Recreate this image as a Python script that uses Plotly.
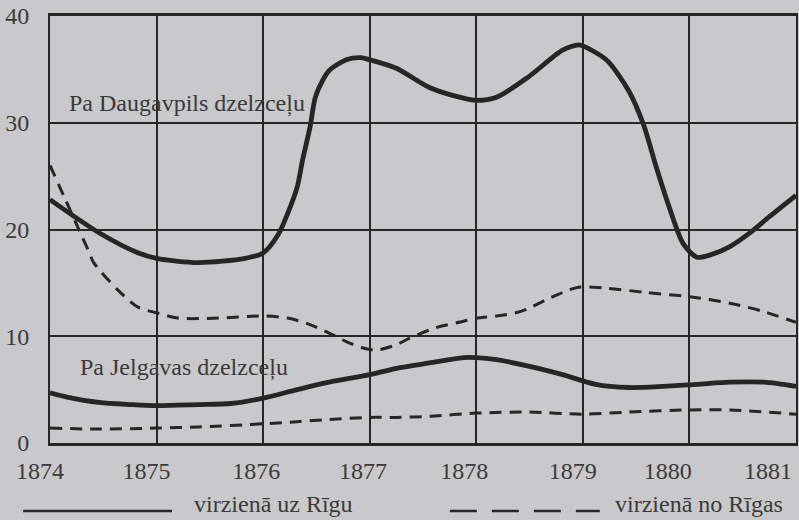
import plotly.graph_objects as go

# ---- data ----
years = [1874, 1875, 1876, 1877, 1878, 1879, 1880, 1881]
year_labels = ["1874", "1875", "1876", "1877", "1878", "1879", "1880", "1881"]
label_pos = [1874.0, 1875.0, 1876.03, 1877.03, 1877.98, 1879.0, 1879.89, 1880.83]

daug_to_x = [1874.00, 1874.46, 1874.83, 1875.00, 1875.39, 1875.83, 1876.00, 1876.14,
             1876.23, 1876.32, 1876.37, 1876.44, 1876.49, 1876.56, 1876.62, 1876.78,
             1876.92, 1877.00, 1877.25, 1877.56, 1877.88, 1878.00, 1878.19, 1878.49,
             1878.81, 1878.96, 1879.00, 1879.22, 1879.43, 1879.57, 1879.69, 1879.81,
             1879.94, 1880.07, 1880.19, 1880.38, 1880.57, 1880.75, 1881.00]
daug_to_y = [22.8, 19.7, 17.8, 17.3, 16.9, 17.3, 17.8, 19.5,
             21.5, 24.0, 26.5, 29.6, 32.4, 34.0, 34.9, 35.9,
             36.1, 35.9, 35.1, 33.3, 32.3, 32.1, 32.4, 34.3,
             36.8, 37.3, 37.2, 35.9, 33.0, 29.8, 25.8, 22.1,
             18.7, 17.4, 17.6, 18.4, 19.7, 21.2, 23.2]

daug_from_x = [1874.00, 1874.14, 1874.28, 1874.37, 1874.41, 1874.64, 1874.83, 1875.00,
               1875.20, 1875.58, 1876.00, 1876.23, 1876.41, 1876.62, 1876.78, 1876.94,
               1877.06, 1877.25, 1877.37, 1877.62, 1877.88, 1878.00, 1878.19, 1878.37,
               1878.49, 1878.65, 1878.81, 1878.96, 1879.22, 1879.59, 1880.00, 1880.38,
               1880.70, 1881.00]
daug_from_y = [26.0, 22.9, 19.8, 17.8, 16.9, 14.3, 12.7, 12.2,
               11.7, 11.7, 11.9, 11.7, 11.2, 10.3, 9.5, 8.9,
               8.7, 9.2, 9.8, 10.8, 11.4, 11.7, 11.9, 12.2,
               12.6, 13.4, 14.1, 14.6, 14.5, 14.1, 13.7, 13.1,
               12.3, 11.3]

jelg_to_x = [1874.00, 1874.16, 1874.46, 1874.76, 1875.00, 1875.39, 1875.70, 1876.00,
             1876.32, 1876.62, 1877.00, 1877.25, 1877.56, 1877.88, 1878.00, 1878.19,
             1878.49, 1878.81, 1879.12, 1879.43, 1879.75, 1880.07, 1880.38, 1880.70,
             1881.00]
jelg_to_y = [4.7, 4.3, 3.8, 3.6, 3.5, 3.6, 3.7, 4.2,
             5.0, 5.7, 6.4, 7.0, 7.5, 8.0, 8.0, 7.8,
             7.2, 6.4, 5.5, 5.2, 5.3, 5.5, 5.7, 5.7,
             5.3]

jelg_from_x = [1874.00, 1874.46, 1875.00, 1875.39, 1876.00, 1876.32, 1876.62, 1877.00,
               1877.25, 1877.56, 1878.00, 1878.49, 1879.00, 1879.43, 1880.00, 1880.38,
               1881.00]
jelg_from_y = [1.4, 1.3, 1.4, 1.5, 1.8, 2.0, 2.2, 2.4,
               2.4, 2.5, 2.8, 2.9, 2.7, 2.9, 3.1, 3.1,
               2.7]

INK = "#262626"
TXT = "#3a3a3a"
BG = "#c9c9cb"
FONT = "Liberation Serif"

fig = go.Figure()
fig.add_trace(go.Scatter(x=daug_to_x, y=daug_to_y, mode="lines",
                         line=dict(color=INK, width=4.8, shape="spline", smoothing=0.8),
                         name="virzienā uz Rīgu", showlegend=False))
fig.add_trace(go.Scatter(x=daug_from_x, y=daug_from_y, mode="lines",
                         line=dict(color=INK, width=3, dash="12px,8px", shape="spline", smoothing=0.8),
                         name="virzienā no Rīgas", showlegend=False))
fig.add_trace(go.Scatter(x=jelg_to_x, y=jelg_to_y, mode="lines",
                         line=dict(color=INK, width=4.8, shape="spline", smoothing=0.8),
                         showlegend=False))
fig.add_trace(go.Scatter(x=jelg_from_x, y=jelg_from_y, mode="lines",
                         line=dict(color=INK, width=3, dash="12px,8px", shape="spline", smoothing=0.8),
                         showlegend=False))

fig.add_annotation(x=1874.16, y=31.8, xref="x", yref="y", text="Pa Daugavpils dzelzceļu",
                   showarrow=False, xanchor="left", yanchor="middle",
                   font=dict(family=FONT, size=24, color=TXT))
fig.add_annotation(x=1874.26, y=7.1, xref="x", yref="y", text="Pa Jelgavas dzelzceļu",
                   showarrow=False, xanchor="left", yanchor="middle",
                   font=dict(family=FONT, size=24, color=TXT))

# legend keys
fig.add_shape(type="line", xref="paper", yref="paper", x0=-0.036, x1=0.1635, y0=-0.159, y1=-0.159,
              line=dict(color=INK, width=2.5))
fig.add_shape(type="line", xref="paper", yref="paper", x0=0.536, x1=0.737, y0=-0.159, y1=-0.159,
              line=dict(color=INK, width=2.5, dash="27px,15px"))
fig.add_annotation(x=0.19, y=-0.177, xref="paper", yref="paper", text="virzienā uz Rīgu",
                   showarrow=False, xanchor="left", yanchor="bottom",
                   font=dict(family=FONT, size=24, color=TXT))
fig.add_annotation(x=0.755, y=-0.177, xref="paper", yref="paper", text="virzienā no Rīgas",
                   showarrow=False, xanchor="left", yanchor="bottom",
                   font=dict(family=FONT, size=24, color=TXT))

fig.update_layout(
    width=799, height=520,
    margin=dict(l=50, r=3, t=16, b=77),
    paper_bgcolor=BG, plot_bgcolor=BG,
    font=dict(family=FONT, size=24, color=TXT),
    showlegend=False,
)
fig.update_xaxes(
    range=[1874, 1881], tickmode="array", tickvals=label_pos, ticktext=year_labels,
    showgrid=False, zeroline=False, ticks="", ticklabelstandoff=4, ticklabelshift=-10,
    automargin=False,
    showline=True, linecolor=INK, linewidth=2.5, mirror=True,
    minor=dict(tickmode="array", tickvals=years, showgrid=True, gridcolor=INK, gridwidth=1.5, ticks=""),
)
fig.update_yaxes(
    range=[0, 40], tickmode="array", tickvals=[0, 10, 20, 30, 40],
    showgrid=True, gridcolor=INK, gridwidth=1.5, zeroline=False, ticks="",
    ticklabelstandoff=14, automargin=False,
    showline=True, linecolor=INK, linewidth=2, mirror=True,
)

fig.write_html("out.html", config={"displayModeBar": False},
               post_script="document.body.style.margin='0';document.body.style.background='" + BG + "';")
